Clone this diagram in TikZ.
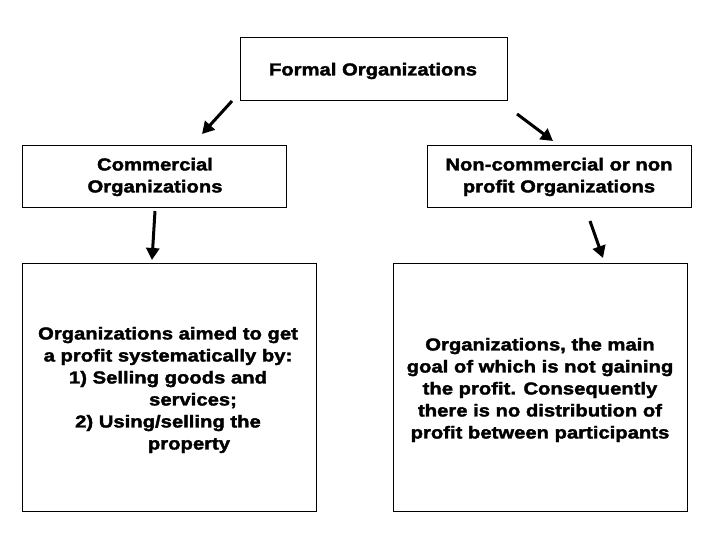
\documentclass[tikz,border=0pt]{standalone}
\usepackage{fontspec}
\setmainfont{Liberation Sans}
\newfontfamily\heavyfont[FakeStretch=1.17,FakeBold=2]{Liberation Sans Bold}
\usetikzlibrary{arrows.meta}
\begin{document}
\begin{tikzpicture}[x=1pt,y=-1pt,
  box/.style={draw=black,line width=1pt,fill=white},
  txt/.style={font=\heavyfont\fontsize{17.3}{22}\selectfont,align=center,inner sep=0pt},
  arr/.style={line width=3pt,-{Triangle[length=12pt,width=13pt]}}]
\useasboundingbox[fill=white] (0,0) rectangle (720,540);
% boxes
\draw[box] (240,38) rectangle (507,101);
\draw[box] (22,146) rectangle (286,208);
\draw[box] (427,146) rectangle (691,208);
\draw[box] (22,263) rectangle (316,511);
\draw[box] (393,263) rectangle (687,511);
% texts
\node[txt] (formal) at (373,71) {Formal Organizations};
\node[txt] (comm) at (155,177) {Commercial\\Organizations};
\node[txt] (noncomm) at (559,177) {Non-commercial or non\\profit Organizations};
\node[txt] (left) at (168,390) {Organizations aimed to get\\a profit systematically by:\\1) Selling goods and\\\hspace*{50pt}services;\\2) Using/selling the\\\hspace*{42pt}property};
\node[txt] (right) at (540,390) {Organizations, the main\\goal of which is not gaining\\the profit. Consequently\\there is no distribution of\\profit between participants};
% arrow ends
\coordinate (a1s) at (232,101);
\coordinate (a1e) at (202,134);
\coordinate (a2s) at (517,114);
\coordinate (a2e) at (553,141);
\coordinate (a3s) at (155,211);
\coordinate (a3e) at (152,260);
\coordinate (a4s) at (590,221);
\coordinate (a4e) at (603,258);
\draw[arr] (a1s) -- (a1e);
\draw[arr] (a2s) -- (a2e);
\draw[arr] (a3s) -- (a3e);
\draw[arr] (a4s) -- (a4e);
\end{tikzpicture}
\end{document}
